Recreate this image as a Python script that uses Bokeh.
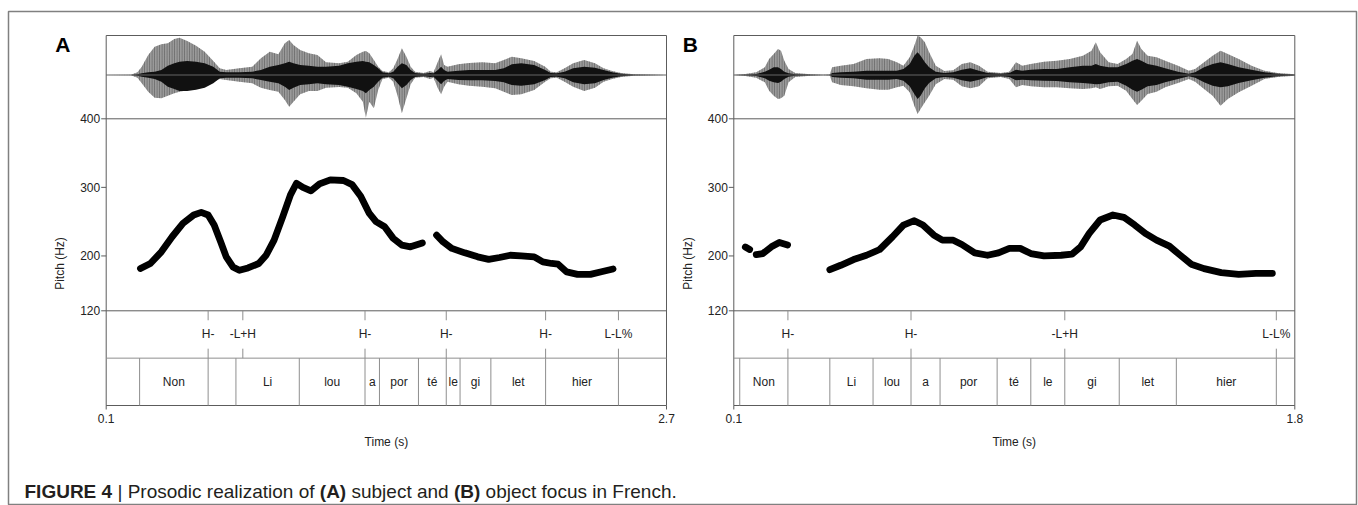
import math
from bokeh.plotting import figure
from bokeh.models import Range1d
from bokeh.core.properties import value
from bokeh.embed import file_html
from bokeh.resources import INLINE

# ------------------------------------------------------------------ data
PITCH_TICKS = [120, 200, 300, 400]
A_TIME_TICKS = [0.1, 2.7]
B_TIME_TICKS = [0.1, 1.8]

# Panel A : pitch contour (s, Hz), two voiced stretches
A_P1_T = [0.259, 0.305, 0.356, 0.406, 0.456, 0.506, 0.541, 0.573, 0.601, 0.631, 0.657, 0.688,
          0.718, 0.758, 0.808, 0.842, 0.879, 0.919, 0.955, 0.983, 1.013, 1.050, 1.090, 1.140,
          1.201, 1.241, 1.281, 1.321, 1.352, 1.392, 1.432, 1.472, 1.512, 1.567]
A_P1_HZ = [181.6, 189, 206, 228, 247.5, 259.7, 263.6, 259.7, 245, 220.6, 198.7, 184,
           179, 182.5, 189, 201, 223, 257, 289, 306, 300, 295, 305, 311,
           310, 304, 287, 262, 250, 242.6, 225.6, 215.8, 213.3, 219]
A_P2_T = [1.633, 1.663, 1.704, 1.764, 1.824, 1.875, 1.925, 1.975, 2.026, 2.086, 2.126, 2.167,
          2.197, 2.237, 2.287, 2.347, 2.398, 2.452]
A_P2_HZ = [230.4, 220.6, 211, 204.5, 198.7, 195, 197.7, 201, 200, 198.7, 191.3, 189,
           188, 176.7, 173.2, 173.2, 177, 181]

# Panel B : pitch contour
B_P1_T = [0.135, 0.148]
B_P1_HZ = [213, 209.4]
B_P2_T = [0.168, 0.188, 0.214, 0.238, 0.263]
B_P2_HZ = [202, 203.5, 213.3, 219.7, 216]
B_P3_T = [0.391, 0.424, 0.463, 0.502, 0.542, 0.581, 0.614, 0.647, 0.673, 0.706, 0.732, 0.765,
          0.791, 0.830, 0.869, 0.902, 0.935, 0.968, 1.000, 1.040, 1.092, 1.125, 1.151, 1.177,
          1.210, 1.249, 1.282, 1.315, 1.347, 1.381, 1.420, 1.453, 1.486, 1.525, 1.577, 1.630,
          1.682, 1.732]
B_P3_HZ = [180, 186.4, 194.7, 201, 209.4, 228, 245, 251.4, 245, 230.4, 223, 223,
           216.7, 204.5, 201, 204.5, 211, 211, 203.5, 200, 201, 202.6, 213.3, 232.8,
           252.4, 259.7, 256.3, 245, 232.8, 223, 214.3, 201, 187.9, 181.5, 175.7, 173.2,
           174.7, 174.7]

# Panel A : oscillogram envelope (s, relative amplitude)
WA_T = [0.100, 0.215, 0.245, 0.265, 0.295, 0.325, 0.356, 0.386, 0.416, 0.440,
        0.476, 0.517, 0.557, 0.597, 0.627, 0.657, 0.718, 0.778, 0.818, 0.859,
        0.899, 0.929, 0.949, 0.969, 1.000, 1.040, 1.080, 1.120, 1.181, 1.221,
        1.261, 1.291, 1.305, 1.321, 1.342, 1.362, 1.382, 1.412, 1.432, 1.452,
        1.472, 1.493, 1.513, 1.533, 1.573, 1.603, 1.619, 1.639, 1.654, 1.668,
        1.684, 1.734, 1.784, 1.845, 1.905, 1.945, 1.982, 2.026, 2.086, 2.137,
        2.163, 2.191, 2.227, 2.267, 2.318, 2.368, 2.408, 2.448, 2.489, 2.549, 2.700]
WA_TOP = [0, 0.008, 0.067, 0.208, 0.5, 0.708, 0.767, 0.792, 0.9, 0.933,
          0.85, 0.733, 0.583, 0.35, 0.167, 0.125, 0.167, 0.208, 0.417, 0.583,
          0.517, 0.792, 0.875, 0.75, 0.625, 0.542, 0.5, 0.317, 0.292, 0.333,
          0.5, 0.583, 0.6, 0.542, 0.375, 0.208, 0.1, 0.067, 0.167, 0.4,
          0.667, 0.458, 0.208, 0.083, 0.05, 0.1, 0.067, 0.333, 0.517, 0.25,
          0.208, 0.267, 0.3, 0.317, 0.292, 0.375, 0.458, 0.417, 0.35, 0.208,
          0.083, 0.067, 0.167, 0.292, 0.375, 0.292, 0.167, 0.1, 0.05, 0.017, 0]
WA_BOT = [0, -0.008, -0.067, -0.208, -0.417, -0.567, -0.583, -0.517, -0.458, -0.417,
          -0.383, -0.35, -0.292, -0.167, -0.1, -0.125, -0.167, -0.208, -0.317, -0.375,
          -0.417, -0.625, -0.792, -0.667, -0.483, -0.4, -0.4, -0.317, -0.3, -0.317,
          -0.458, -0.667, -1.067, -0.667, -0.833, -0.375, -0.1, -0.067, -0.167, -0.517,
          -0.958, -0.583, -0.233, -0.067, -0.05, -0.1, -0.067, -0.333, -0.483, -0.292,
          -0.167, -0.233, -0.267, -0.292, -0.333, -0.417, -0.5, -0.483, -0.375, -0.167,
          -0.083, -0.067, -0.167, -0.292, -0.4, -0.317, -0.167, -0.1, -0.05, -0.017, 0]
WA_IN_TOP = [0, 0, 0.017, 0.042, 0.067, 0.083, 0.125, 0.233, 0.292, 0.333,
             0.35, 0.333, 0.292, 0.208, 0.083, 0.067, 0.067, 0.083, 0.125, 0.208,
             0.25, 0.292, 0.333, 0.292, 0.25, 0.233, 0.208, 0.208, 0.233, 0.292,
             0.333, 0.35, 0.333, 0.317, 0.25, 0.167, 0.067, 0.042, 0.083, 0.208,
             0.292, 0.25, 0.125, 0.05, 0.033, 0.05, 0.042, 0.125, 0.208, 0.125,
             0.083, 0.108, 0.125, 0.125, 0.125, 0.167, 0.267, 0.292, 0.25, 0.125,
             0.05, 0.042, 0.083, 0.167, 0.208, 0.183, 0.125, 0.067, 0.033, 0.008, 0]
WA_IN_BOT = [0, 0, -0.017, -0.042, -0.067, -0.1, -0.167, -0.292, -0.35, -0.4,
             -0.4, -0.367, -0.317, -0.208, -0.083, -0.067, -0.067, -0.083, -0.125, -0.167,
             -0.208, -0.292, -0.375, -0.317, -0.25, -0.233, -0.208, -0.233, -0.25, -0.292,
             -0.35, -0.4, -0.458, -0.375, -0.292, -0.167, -0.067, -0.042, -0.083, -0.208,
             -0.333, -0.25, -0.125, -0.05, -0.033, -0.05, -0.042, -0.15, -0.233, -0.15,
             -0.1, -0.125, -0.133, -0.133, -0.15, -0.183, -0.25, -0.267, -0.233, -0.125,
             -0.05, -0.042, -0.083, -0.183, -0.233, -0.208, -0.125, -0.067, -0.033, -0.008, 0]

# Panel B : oscillogram envelope
WB_T = [0.100, 0.135, 0.168, 0.194, 0.207, 0.221, 0.234, 0.243, 0.253, 0.266,
        0.286, 0.332, 0.371, 0.391, 0.398, 0.424, 0.463, 0.502, 0.542, 0.568,
        0.594, 0.614, 0.633, 0.647, 0.657, 0.666, 0.679, 0.692, 0.712, 0.738,
        0.765, 0.791, 0.817, 0.843, 0.869, 0.909, 0.935, 0.955, 0.974, 1.000,
        1.040, 1.079, 1.118, 1.158, 1.184, 1.197, 1.210, 1.236, 1.263, 1.289,
        1.308, 1.322, 1.335, 1.354, 1.381, 1.407, 1.446, 1.479, 1.498, 1.525,
        1.551, 1.575, 1.597, 1.630, 1.669, 1.708, 1.748, 1.800]
WB_TOP = [0, 0.025, 0.067, 0.192, 0.4, 0.525, 0.65, 0.608, 0.358, 0.15,
          0.05, 0.017, 0.008, 0.017, 0.192, 0.233, 0.275, 0.4, 0.417, 0.4,
          0.317, 0.233, 0.442, 0.733, 0.98, 0.942, 0.817, 0.567, 0.233, 0.1,
          0.117, 0.275, 0.317, 0.233, 0.083, 0.05, 0.083, 0.317, 0.233, 0.275,
          0.333, 0.358, 0.4, 0.483, 0.608, 0.817, 0.567, 0.317, 0.275, 0.4,
          0.525, 0.858, 0.65, 0.483, 0.442, 0.358, 0.233, 0.108, 0.15, 0.317,
          0.483, 0.608, 0.525, 0.4, 0.233, 0.108, 0.05, 0.017]
WB_BOT = [0, -0.025, -0.067, -0.183, -0.392, -0.517, -0.6, -0.583, -0.517, -0.183,
          -0.05, -0.017, -0.008, -0.017, -0.183, -0.25, -0.283, -0.333, -0.367, -0.367,
          -0.308, -0.267, -0.433, -0.767, -0.975, -0.85, -0.683, -0.517, -0.233, -0.1,
          -0.117, -0.283, -0.333, -0.283, -0.083, -0.05, -0.1, -0.308, -0.25, -0.283,
          -0.308, -0.308, -0.333, -0.35, -0.333, -0.308, -0.35, -0.283, -0.267, -0.392,
          -0.6, -0.75, -0.642, -0.475, -0.417, -0.308, -0.2, -0.1, -0.167, -0.35,
          -0.517, -0.767, -0.6, -0.433, -0.267, -0.1, -0.05, -0.017]
WB_IN_TOP = [0, 0.008, 0.025, 0.083, 0.133, 0.192, 0.192, 0.15, 0.083, 0.042,
             0.017, 0.008, 0, 0, 0.05, 0.067, 0.083, 0.108, 0.108, 0.108,
             0.108, 0.15, 0.275, 0.483, 0.567, 0.483, 0.317, 0.192, 0.083, 0.05,
             0.067, 0.133, 0.167, 0.108, 0.05, 0.033, 0.05, 0.133, 0.108, 0.133,
             0.15, 0.15, 0.192, 0.233, 0.233, 0.275, 0.233, 0.192, 0.192, 0.275,
             0.358, 0.4, 0.358, 0.275, 0.233, 0.167, 0.083, 0.033, 0.067, 0.192,
             0.275, 0.317, 0.275, 0.192, 0.133, 0.067, 0.033, 0.008]
WB_IN_BOT = [0, -0.008, -0.025, -0.083, -0.142, -0.183, -0.2, -0.167, -0.1, -0.042,
             -0.017, -0.008, 0, 0, -0.05, -0.067, -0.083, -0.117, -0.117, -0.117,
             -0.1, -0.142, -0.283, -0.475, -0.6, -0.517, -0.333, -0.2, -0.083, -0.05,
             -0.067, -0.133, -0.167, -0.117, -0.05, -0.033, -0.05, -0.133, -0.117, -0.133,
             -0.142, -0.15, -0.183, -0.2, -0.217, -0.233, -0.225, -0.183, -0.167, -0.267,
             -0.367, -0.417, -0.367, -0.283, -0.25, -0.183, -0.1, -0.033, -0.067, -0.183,
             -0.267, -0.308, -0.283, -0.2, -0.133, -0.067, -0.033, -0.008]

# TextGrid tiers
A_SYL_BOUNDS = [0.255, 0.573, 0.702, 0.996, 1.301, 1.368, 1.549, 1.678, 1.742, 1.885, 2.139, 2.477]
A_SYL_LABELS = ["", "Non", "", "Li", "lou", "a", "por", "té", "le", "gi", "let", "hier", ""]
A_TONE_TIMES = [0.573, 0.734, 1.301, 1.678, 2.139, 2.477]
A_TONE_LABELS = ["H-", "-L+H", "H-", "H-", "H-", "L-L%"]

B_SYL_BOUNDS = [0.118, 0.264, 0.391, 0.522, 0.637, 0.725, 0.898, 1.000, 1.103, 1.268, 1.441, 1.744]
B_SYL_LABELS = ["", "Non", "", "Li", "lou", "a", "por", "té", "le", "gi", "let", "hier", ""]
B_TONE_TIMES = [0.264, 0.637, 1.103, 1.744]
B_TONE_LABELS = ["H-", "H-", "-L+H", "L-L%"]

CAPTION_PARTS = [("FIGURE 4", True), (" | ", False), ("Prosodic realization of ", False),
                 ("(A)", True), (" subject and ", False), ("(B)", True),
                 (" object focus in French.", False)]

# ------------------------------------------------------------------ layout (canvas px)
CW, CH = 1358, 505
FL, FT, FR, FB = 8, 11, 1356, 505
PANEL_X = {"A": (105.7, 666.0), "B": (733.3, 1294.3)}
Y_TOP = 35.0
Y_400 = 118.3
Y_120 = 310.3
Y_BOT = 405.0
Y_AMP0 = 74.5
AMP_PX = 40.0
FONT = "Liberation Sans"
INK = "#222222"
BOX = "#5c5c5c"
TIER = "#8e8e8e"


def lin_range(v1, p1, v2, p2, q_start, q_end):
    k = (v2 - v1) / (p2 - p1)
    return Range1d(start=v1 + (q_start - p1) * k, end=v1 + (q_end - p1) * k)


p = figure(width=CW, height=CH, x_range=Range1d(FL, FR), y_range=Range1d(FB, FT),
           toolbar_location=None, output_backend="svg",
           x_axis_location=None, y_axis_location=None,
           min_border=0, min_border_left=FL, min_border_top=FT,
           min_border_right=CW - FR, min_border_bottom=CH - FB)
p.grid.visible = False
p.background_fill_color = "white"
p.border_fill_color = "white"
p.outline_line_color = "#808080"
p.outline_line_width = 1.5

p.extra_x_ranges = {
    "tA": lin_range(A_TIME_TICKS[0], PANEL_X["A"][0], A_TIME_TICKS[-1], PANEL_X["A"][1], FL, FR),
    "tB": lin_range(B_TIME_TICKS[0], PANEL_X["B"][0], B_TIME_TICKS[-1], PANEL_X["B"][1], FL, FR),
}
p.extra_y_ranges = {
    "hz": lin_range(max(PITCH_TICKS), Y_400, min(PITCH_TICKS), Y_120, FB, FT),
    "amp": lin_range(0, Y_AMP0, 1, Y_AMP0 - AMP_PX, FB, FT),
    "tier": lin_range(0, Y_BOT, 2, Y_120, FB, FT),
}

TXT = dict(text_font=value(FONT), text_color=INK)


def draw_panel(key, tname, ticks, wave, pitch_segs, syl_b, syl_l, tone_t, tone_l):
    x0, x1 = PANEL_X[key]
    wt, wtop, wbot, witop, wibot = wave
    # oscillogram
    p.varea(x=wt, y1=wbot, y2=wtop, x_range_name=tname, y_range_name="amp",
            fill_color="#9a9a9a", hatch_pattern="vertical_line", hatch_color="#3c3c3c",
            hatch_scale=2.5, hatch_weight=0.8, hatch_alpha=0.6)
    p.varea(x=wt, y1=wibot, y2=witop, x_range_name=tname, y_range_name="amp",
            fill_color="#111111")
    p.line(x=[ticks[0], ticks[-1]], y=[0, 0], x_range_name=tname, y_range_name="amp",
           line_color="#666666", line_width=1)
    # frame of the panel
    p.quad(left=[x0], right=[x1], top=[Y_TOP], bottom=[Y_BOT], fill_color=None,
           line_color=BOX, line_width=1)
    p.segment(x0=[x0, x0], x1=[x1, x1], y0=[max(PITCH_TICKS), min(PITCH_TICKS)],
              y1=[max(PITCH_TICKS), min(PITCH_TICKS)], y_range_name="hz",
              line_color=BOX, line_width=1)
    p.segment(x0=[x0], x1=[x1], y0=[1], y1=[1], y_range_name="tier",
              line_color=TIER, line_width=1)
    # pitch axis
    n = len(PITCH_TICKS)
    p.segment(x0=[x0 - 5] * n, x1=[x0] * n, y0=PITCH_TICKS, y1=PITCH_TICKS,
              y_range_name="hz", line_color=BOX, line_width=1)
    p.text(x=[x0 - 6] * n, y=PITCH_TICKS, text=[str(v) for v in PITCH_TICKS],
           y_range_name="hz", text_align="right", text_baseline="middle",
           text_font_size="12px", **TXT)
    p.text(x=[x0 - 46], y=[263], text=["Pitch (Hz)"], angle=math.pi / 2,
           text_align="center", text_baseline="middle", text_font_size="12px", **TXT)
    # time axis
    m = len(ticks)
    p.segment(x0=ticks, x1=ticks, y0=[Y_BOT] * m, y1=[Y_BOT + 4] * m, x_range_name=tname,
              line_color=BOX, line_width=1)
    p.text(x=ticks, y=[Y_BOT + 13] * m, text=[f"{v:g}" for v in ticks], x_range_name=tname,
           text_align="center", text_baseline="middle", text_font_size="12px", **TXT)
    p.text(x=[(ticks[0] + ticks[-1]) / 2], y=[Y_BOT + 36], text=["Time (s)"],
           x_range_name=tname, text_align="center", text_baseline="middle",
           text_font_size="12px", **TXT)
    # pitch contour
    for st, sh in pitch_segs:
        p.line(x=st, y=sh, x_range_name=tname, y_range_name="hz", line_color="black",
               line_width=6.8, line_cap="round", line_join="round")
    # syllable tier
    k = len(syl_b)
    p.segment(x0=syl_b, x1=syl_b, y0=[0] * k, y1=[1] * k, x_range_name=tname,
              y_range_name="tier", line_color=TIER, line_width=1)
    edges = [ticks[0]] + syl_b + [ticks[-1]]
    mids = [(edges[i] + edges[i + 1]) / 2 for i in range(len(edges) - 1)]
    p.text(x=mids, y=[0.5] * len(mids), text=syl_l, x_range_name=tname, y_range_name="tier",
           text_align="center", text_baseline="middle", text_font_size="12px", **TXT)
    # tone tier
    j = len(tone_t)
    p.segment(x0=tone_t * 2, x1=tone_t * 2, y0=[2] * j + [1] * j, y1=[1.8] * j + [1.2] * j,
              x_range_name=tname, y_range_name="tier", line_color=TIER, line_width=1)
    p.text(x=tone_t, y=[1.5] * j, text=tone_l, x_range_name=tname, y_range_name="tier",
           text_align="center", text_baseline="middle", text_font_size="12px", **TXT)
    # panel letter
    p.text(x=[x0 - 51], y=[44], text=[key], text_align="left", text_baseline="alphabetic",
           text_font_size="21px", text_font_style="bold", text_font=value(FONT),
           text_color="black")


draw_panel("A", "tA", A_TIME_TICKS, (WA_T, WA_TOP, WA_BOT, WA_IN_TOP, WA_IN_BOT),
           [(A_P1_T, A_P1_HZ), (A_P2_T, A_P2_HZ)],
           A_SYL_BOUNDS, A_SYL_LABELS, A_TONE_TIMES, A_TONE_LABELS)
draw_panel("B", "tB", B_TIME_TICKS, (WB_T, WB_TOP, WB_BOT, WB_IN_TOP, WB_IN_BOT),
           [(B_P1_T, B_P1_HZ), (B_P2_T, B_P2_HZ), (B_P3_T, B_P3_HZ)],
           B_SYL_BOUNDS, B_SYL_LABELS, B_TONE_TIMES, B_TONE_LABELS)

# ------------------------------------------------------------------ caption
REG_W = {' ': 278, '|': 260, 'P': 667, 'r': 333, 'o': 556, 's': 500, 'd': 556, 'i': 222,
         'c': 500, 'e': 556, 'a': 556, 'l': 222, 'z': 500, 't': 278, 'n': 556, 'f': 278,
         'u': 556, 'b': 556, 'j': 222, 'F': 611, 'h': 556, '.': 278, '(': 333, ')': 333}
BOLD_W = {'F': 611, 'I': 278, 'G': 778, 'U': 722, 'R': 722, 'E': 667, ' ': 278, '4': 556,
          '(': 333, 'A': 722, ')': 333, 'B': 722}
CAP_SIZE = 19
cx = 24.0
for txt, bold in CAPTION_PARTS:
    table = BOLD_W if bold else REG_W
    lead = len(txt) - len(txt.lstrip(" "))
    body = txt.strip(" ")
    p.text(x=[cx + lead * 278 * CAP_SIZE / 1000], y=[491], text=[body], text_align="left",
           text_baseline="alphabetic", text_font=value(FONT),
           text_font_size=f"{CAP_SIZE}px", text_font_style="bold" if bold else "normal",
           text_color="#231f20")
    cx += sum(table.get(ch, 556) for ch in txt) * CAP_SIZE / 1000

open("out.html", "w").write(file_html(p, INLINE))
